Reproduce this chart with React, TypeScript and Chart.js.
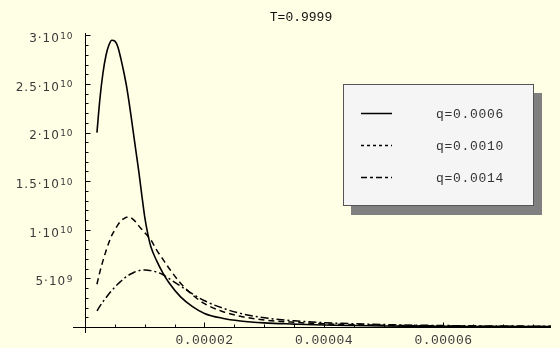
import { useEffect, useRef } from "react";
import { Chart, registerables } from "chart.js";

Chart.register(...registerables);

const titleText = "T=0.9999";

const xValues = [
  2e-6, 2.5e-6, 3e-6, 3.5e-6, 4e-6, 4.5e-6, 5e-6, 5.5e-6, 6e-6, 6.5e-6, 7e-6, 7.5e-6,
  8e-6, 8.5e-6, 9e-6, 9.5e-6, 10e-6, 10.5e-6, 11e-6, 12e-6, 13e-6, 14e-6,
  16e-6, 18e-6, 20e-6, 23e-6, 26e-6, 30e-6, 35e-6, 40e-6, 45e-6, 50e-6, 55e-6,
  60e-6, 65e-6, 70e-6, 75e-6, 78e-6,
];

const seriesQ0006 = [
  2.0e10, 2.35e10, 2.61e10, 2.79e10, 2.9e10, 2.95e10, 2.94e10, 2.88e10, 2.76e10, 2.62e10,
  2.46e10, 2.26e10, 2.04e10, 1.82e10, 1.6e10, 1.36e10, 1.13e10, 9.6e9, 8.3e9,
  6.8e9, 5.6e9, 4.6e9, 3.1e9, 2.1e9, 1.4e9, 9.0e8, 6.2e8, 4.2e8, 3.0e8, 2.0e8, 1.5e8,
  1.1e8, 9.0e7, 7.0e7, 5.5e7, 4.5e7, 4.0e7, 3.5e7,
];

const seriesQ0010 = [
  4.4e9, 5.7e9, 6.8e9, 7.8e9, 8.7e9, 9.45e9, 1.0e10, 1.05e10, 1.09e10, 1.115e10, 1.13e10,
  1.128e10, 1.11e10, 1.08e10, 1.04e10, 1.005e10, 9.7e9, 9.35e9, 9.0e9,
  7.9e9, 7.0e9, 6.1e9, 4.5e9, 3.3e9, 2.4e9, 1.6e9, 1.1e9, 7.2e8, 4.8e8, 3.3e8, 2.4e8,
  1.8e8, 1.4e8, 1.1e8, 9.0e7, 7.0e7, 6.0e7, 5.0e7,
];

const seriesQ0014 = [
  1.65e9, 2.15e9, 2.6e9, 3.0e9, 3.4e9, 3.78e9, 4.1e9, 4.42e9, 4.7e9, 4.97e9, 5.2e9,
  5.4e9, 5.55e9, 5.7e9, 5.8e9, 5.85e9, 5.86e9, 5.84e9, 5.8e9, 5.65e9,
  5.4e9, 5.0e9, 4.2e9, 3.4e9, 2.7e9, 1.95e9, 1.4e9, 9.5e8, 6.4e8, 4.5e8, 3.3e8,
  2.5e8, 1.9e8, 1.5e8, 1.2e8, 1.0e8, 8.5e7, 7.5e7,
];

const seriesLabels = ["q=0.0006", "q=0.0010", "q=0.0014"];

const yTickValues = [5e9, 1e10, 1.5e10, 2e10, 2.5e10, 3e10];
const yTickBases = ["5·10", "1·10", "1.5·10", "2·10", "2.5·10", "3·10"];
const yTickExps = ["9", "10", "10", "10", "10", "10"];

const xTickValues = [0.00002, 0.00004, 0.00006];
const xTickLabels = ["0.00002", "0.00004", "0.00006"];

const yMinorStep = 1e9;
const xMinorStep = 5e-6;

const BG = "rgb(255,255,230)";

const plotPlugin = {
  id: "mmaDecor",
  beforeDraw(chart: any) {
    const ctx = chart.ctx;
    ctx.save();
    ctx.fillStyle = BG;
    ctx.fillRect(0, 0, chart.width, chart.height);
    ctx.restore();
  },
  beforeDatasetsDraw(chart: any) {
    const ctx = chart.ctx;
    const xs = chart.scales.x;
    const ys = chart.scales.y;
    const area = chart.chartArea;
    const x0 = Math.round(xs.getPixelForValue(0)) + 0.5;
    const y0 = Math.round(ys.getPixelForValue(0)) + 0.5;
    ctx.save();
    ctx.strokeStyle = "#000";
    ctx.lineWidth = 1;
    ctx.beginPath();
    ctx.moveTo(area.left, y0);
    ctx.lineTo(area.right, y0);
    ctx.moveTo(x0, area.top);
    ctx.lineTo(x0, area.bottom);
    ctx.stroke();

    ctx.beginPath();
    for (let v = yMinorStep; v <= ys.max + 1; v += yMinorStep) {
      const py = Math.round(ys.getPixelForValue(v)) + 0.5;
      const major = yTickValues.some((t) => Math.abs(t - v) < yMinorStep / 10);
      ctx.moveTo(x0, py);
      ctx.lineTo(x0 + (major ? 5 : 3), py);
    }
    for (let v = xMinorStep; v <= xs.max; v += xMinorStep) {
      const px = Math.round(xs.getPixelForValue(v)) + 0.5;
      const major = xTickValues.some((t) => Math.abs(t - v) < xMinorStep / 10);
      ctx.moveTo(px, y0);
      ctx.lineTo(px, y0 - (major ? 5 : 3));
    }
    ctx.stroke();

    ctx.fillStyle = "#3a3a3a";
    ctx.textBaseline = "alphabetic";
    for (let i = 0; i < yTickValues.length; i++) {
      const py = ys.getPixelForValue(yTickValues[i]);
      const right = 73;
      ctx.font = "9px 'DejaVu Sans'";
      (ctx as any).letterSpacing = "0.6px";
      const ew = ctx.measureText(yTickExps[i]).width;
      ctx.textAlign = "right";
      ctx.fillText(yTickExps[i], right, py + 3.5);
      ctx.font = "12px 'DejaVu Sans'";
      (ctx as any).letterSpacing = "1px";
      ctx.fillText(yTickBases[i], right - ew - 0.5, py + 6.8);
    }

    ctx.font = "13px 'Liberation Mono'";
    (ctx as any).letterSpacing = "0.5px";
    ctx.textAlign = "center";
    for (let i = 0; i < xTickValues.length; i++) {
      const px = xs.getPixelForValue(xTickValues[i]);
      ctx.fillText(xTickLabels[i], px, 343.5);
    }

    (ctx as any).letterSpacing = "0px";
    ctx.fillStyle = "#111";
    ctx.font = "13px 'Liberation Mono'";
    ctx.textAlign = "center";
    ctx.fillText(titleText, 301, 21);
    ctx.restore();
  },
  afterDraw(chart: any) {
    const ctx = chart.ctx;
    const bx = 343, by = 84, bw = 191, bh = 122;
    ctx.save();
    ctx.fillStyle = "#808080";
    ctx.fillRect(bx + 8, by + 9, bw, bh);
    ctx.fillStyle = "#f5f5f5";
    ctx.fillRect(bx, by, bw, bh);
    ctx.strokeStyle = "#555";
    ctx.lineWidth = 1;
    ctx.strokeRect(bx + 0.5, by + 0.5, bw - 1, bh - 1);
    const rows = [113.5, 145.5, 177.5];
    const dashes = [[], [3, 3], [6, 3, 3, 3]];
    chart.data.datasets.forEach((ds: any, i: number) => {
      ctx.strokeStyle = "#000";
      ctx.lineWidth = 1.5;
      ctx.setLineDash(dashes[i]);
      ctx.beginPath();
      ctx.moveTo(361, rows[i]);
      ctx.lineTo(392, rows[i]);
      ctx.stroke();
      ctx.setLineDash([]);
      ctx.fillStyle = "#333";
      ctx.font = "13px 'Liberation Mono'";
      (ctx as any).letterSpacing = "0.7px";
      ctx.textAlign = "left";
      ctx.textBaseline = "alphabetic";
      ctx.fillText(ds.label, 436, rows[i] + 4.5);
    });
    ctx.restore();
  },
};

export default function App() {
  const ref = useRef<HTMLCanvasElement | null>(null);
  useEffect(() => {
    if (!ref.current) return;
    const mk = (ys: number[]) => xValues.map((x, i) => ({ x, y: ys[i] }));
    const common = { borderColor: "#000", pointRadius: 0, cubicInterpolationMode: "monotone" };
    const chart = new Chart(ref.current, {
      type: "line",
      data: {
        datasets: [
          { ...common, label: seriesLabels[0], data: mk(seriesQ0006), borderWidth: 1.6 },
          { ...common, label: seriesLabels[1], data: mk(seriesQ0010), borderWidth: 1.5, borderDash: [6, 4] },
          { ...common, label: seriesLabels[2], data: mk(seriesQ0014), borderWidth: 1.5, borderDash: [8, 3, 2, 3] },
        ],
      } as any,
      options: {
        animation: false,
        responsive: false,
        devicePixelRatio: 1,
        layout: { padding: { left: 73, right: 9, top: 33, bottom: 15 } },
        plugins: { legend: { display: false }, tooltip: { enabled: false }, title: { display: false } },
        scales: {
          x: { type: "linear", display: false, min: -2.01e-6, max: 7.8e-5 },
          y: { type: "linear", display: false, min: -6.17e8, max: 3.024e10 },
        },
      } as any,
      plugins: [plotPlugin],
    });
    return () => chart.destroy();
  }, []);
  return (
    <div style={{ position: "absolute", left: 0, top: 0, width: 560, height: 348 }}>
      <canvas ref={ref} width={560} height={348} />
    </div>
  );
}
